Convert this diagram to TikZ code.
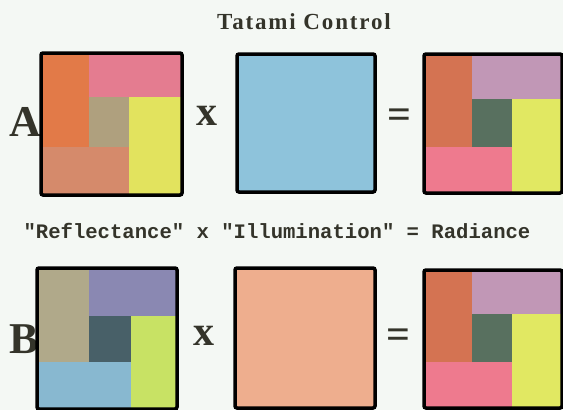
\documentclass[tikz,border=0pt]{standalone}
\usepackage{fontspec}
\setmainfont{Liberation Serif}
\newfontfamily\capfont{Liberation Mono}
\newfontfamily\titlefont[LetterSpace=8]{Liberation Serif}
\definecolor{bgc}{HTML}{F4F8F4}
\definecolor{inkc}{HTML}{34342A}
% row A reflectance
\definecolor{aor}{HTML}{E27A48}
\definecolor{apk}{HTML}{E47C90}
\definecolor{atn}{HTML}{AFA07E}
\definecolor{aye}{HTML}{E2E35E}
\definecolor{asa}{HTML}{D58A6B}
\definecolor{ablue}{HTML}{8EC3DB}
% row B reflectance
\definecolor{btn}{HTML}{B0A98A}
\definecolor{bpu}{HTML}{8A88B2}
\definecolor{bsl}{HTML}{486068}
\definecolor{bli}{HTML}{C8E264}
\definecolor{blb}{HTML}{88B8D0}
\definecolor{bpeach}{HTML}{EEAE8E}
% radiance
\definecolor{rte}{HTML}{D47352}
\definecolor{rma}{HTML}{C197B6}
\definecolor{rdg}{HTML}{58705F}
\definecolor{rye}{HTML}{E1E862}
\definecolor{rpk}{HTML}{EE7A8E}
\begin{document}
\begin{tikzpicture}[x=1pt,y=-1pt,
  frame/.style={draw=black,line width=3.5pt,rounded corners=2pt},
  bigsym/.style={inner sep=0pt,text=inkc,font=\fontsize{44}{48}\selectfont\bfseries},
  opsym/.style={inner sep=0pt,text=inkc,font=\fontsize{42}{46}\selectfont\bfseries}]
\fill[bgc] (0,0) rectangle (563,410);
\useasboundingbox (0,0) rectangle (563,410);

% title
\node[inner sep=0pt,text=inkc,font=\fontsize{23}{26}\titlefont\bfseries] (title) at (304,22) {Tatami Control};

% ---------- row A ----------
\node[bigsym] (labA) at (25,122) {A};
% A1 reflectance
\fill[aor] (41,53) rectangle (89,147);
\fill[apk] (89,53) rectangle (182,97);
\fill[atn] (89,97) rectangle (129,147);
\fill[aye] (129,97) rectangle (182,195);
\fill[asa] (41,147) rectangle (129,195);
\node[frame,minimum width=141pt,minimum height=142pt,inner sep=0pt] (a1) at (111.5,124) {};
\node[opsym] (xa) at (207,116) {x};
% A2 illumination
\node[frame,fill=ablue,minimum width=138pt,minimum height=138pt,inner sep=0pt] (a2) at (306,123) {};
\node[opsym] (eqa) at (399,119) {=};
% A3 radiance
\fill[rte] (424,54) rectangle (472,147);
\fill[rma] (472,54) rectangle (562,99);
\fill[rdg] (472,99) rectangle (512,147);
\fill[rye] (512,99) rectangle (562,193);
\fill[rpk] (424,147) rectangle (512,193);
\node[frame,minimum width=138pt,minimum height=139pt,inner sep=0pt] (a3) at (493,123.5) {};

% caption
\node[inner sep=0pt,text=inkc,font=\fontsize{20.6}{24}\capfont\bfseries] (cap) at (277,231) {"Reflectance" x "Illumination" = Radiance};

% ---------- row B ----------
\node[bigsym] (labB) at (24,339) {B};
% B1 reflectance
\fill[btn] (37,268) rectangle (89,362);
\fill[bpu] (89,268) rectangle (177,316);
\fill[bsl] (89,316) rectangle (131,362);
\fill[bli] (131,316) rectangle (177,409);
\fill[blb] (37,362) rectangle (131,409);
\node[frame,minimum width=140pt,minimum height=141pt,inner sep=0pt] (b1) at (107,338.5) {};
\node[opsym] (xb) at (204,336) {x};
% B2 illumination
\node[frame,fill=bpeach,minimum width=140pt,minimum height=140pt,inner sep=0pt] (b2) at (305,338) {};
\node[opsym] (eqb) at (398,339) {=};
% B3 radiance
\fill[rte] (424,270) rectangle (472,362);
\fill[rma] (472,270) rectangle (562,314);
\fill[rdg] (472,314) rectangle (512,362);
\fill[rye] (512,314) rectangle (562,408);
\fill[rpk] (424,362) rectangle (512,408);
\node[frame,minimum width=138pt,minimum height=138pt,inner sep=0pt] (b3) at (493,339) {};
\end{tikzpicture}
\end{document}
